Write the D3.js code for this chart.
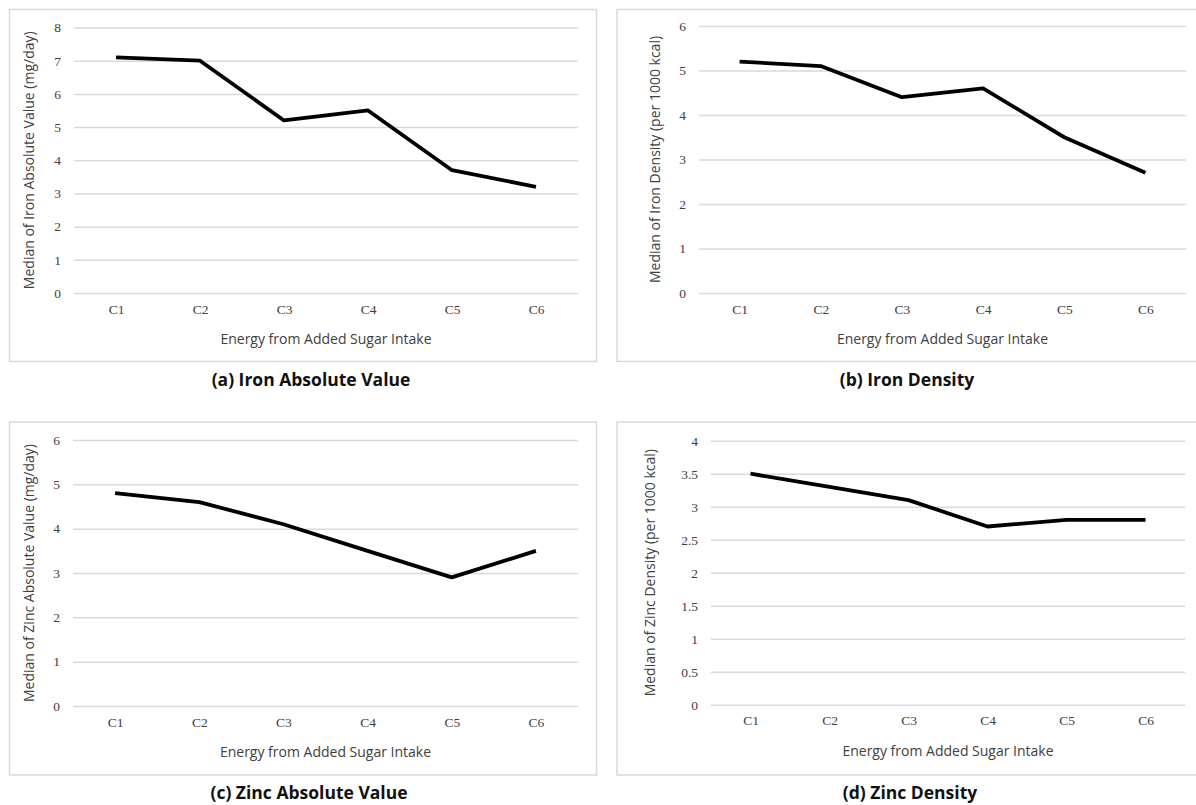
<!DOCTYPE html>
<html>
<head>
<meta charset="utf-8">
<script src="https://cdn.jsdelivr.net/npm/d3@7"></script>
<style>
  body { margin: 0; background: #fff; }
  svg { display: block; }
  .tick text { font-family: "Liberation Serif", "Times New Roman", serif; font-size: 13.5px; fill: #404040; }
  .axis-title { font-family: "Open Sans", sans-serif; font-size: 14px; fill: #404040; }
  .panel-title { font-family: "Open Sans", sans-serif; font-size: 17.5px; font-weight: bold; fill: #111; }
</style>
</head>
<body>
<svg id="chart" width="1196" height="805"></svg>
<script>
// categories shared by all four panels
const categories = ["C1", "C2", "C3", "C4", "C5", "C6"];

// series values
const ironAbsolute = [7.1, 7.0, 5.2, 5.5, 3.7, 3.2];
const ironDensity = [5.2, 5.1, 4.4, 4.6, 3.5, 2.7];
const zincAbsolute = [4.8, 4.6, 4.1, 3.5, 2.9, 3.5];
const zincDensity = [3.5, 3.3, 3.1, 2.7, 2.8, 2.8];

// y tick labels for each panel
const ironAbsTicks = [0, 1, 2, 3, 4, 5, 6, 7, 8];
const ironDenTicks = [0, 1, 2, 3, 4, 5, 6];
const zincAbsTicks = [0, 1, 2, 3, 4, 5, 6];
const zincDenTicks = [0, 0.5, 1, 1.5, 2, 2.5, 3, 3.5, 4];

const xTitle = "Energy from Added Sugar Intake";

// layout of each panel (frame box, plot box, title)
let panels = [
    { values: ironAbsolute, ticks: ironAbsTicks, yTitle: "Median of Iron Absolute Value (mg/day)",
      title: "(a) Iron Absolute Value",
      frame: { x: 9.5, y: 9.5, w: 587, h: 352 },
      plot: { x0: 74, x1: 578, y0: 27.5, y1: 293 },
      yTitleX: 34, titleX: 311, titleY: 386 },
    { values: ironDensity, ticks: ironDenTicks, yTitle: "Median of Iron Density (per 1000 kcal)",
      title: "(b) Iron Density",
      frame: { x: 617, y: 9.5, w: 600, h: 352 },
      plot: { x0: 699, x1: 1186, y0: 26, y1: 293 },
      yTitleX: 660, titleX: 907, titleY: 386 },
    { values: zincAbsolute, ticks: zincAbsTicks, yTitle: "Median of Zinc Absolute Value (mg/day)",
      title: "(c) Zinc Absolute Value",
      frame: { x: 9.5, y: 422, w: 587, h: 353 },
      plot: { x0: 73, x1: 578, y0: 440, y1: 706 },
      yTitleX: 34, titleX: 309, titleY: 799 },
    { values: zincDensity, ticks: zincDenTicks, yTitle: "Median of Zinc Density (per 1000 kcal)",
      title: "(d) Zinc Density",
      frame: { x: 617, y: 422, w: 600, h: 353 },
      plot: { x0: 711, x1: 1185, y0: 440.7, y1: 704.7 },
      yTitleX: 655, titleX: 910, titleY: 799 }
];

function drawPanel(p) {
    let svg = d3.select("#chart");
    let g = svg.append("g");

    // outer frame of the panel
    g.append("rect")
        .attr("x", p.frame.x).attr("y", p.frame.y)
        .attr("width", p.frame.w).attr("height", p.frame.h)
        .attr("fill", "none").attr("stroke", "#d9d9d9").attr("stroke-width", 1.5);

    let xScale = d3.scalePoint()
        .domain(categories)
        .range([p.plot.x0, p.plot.x1])
        .padding(0.5);

    let yScale = d3.scaleLinear()
        .domain([d3.min(p.ticks), d3.max(p.ticks)])
        .range([p.plot.y1, p.plot.y0]);

    // gridlines + y labels
    let axisY = d3.axisLeft(yScale)
        .tickValues(p.ticks)
        .tickSize(-(p.plot.x1 - p.plot.x0))
        .tickPadding(13)
        .tickFormat(d3.format(""));
    let gy = g.append("g")
        .attr("transform", "translate(" + p.plot.x0 + ",0)")
        .call(axisY);
    gy.select(".domain").remove();
    gy.selectAll(".tick line").attr("stroke", "#d9d9d9").attr("stroke-width", 1.5);

    // category labels
    let axisX = d3.axisBottom(xScale).tickSize(0).tickPadding(11);
    let gx = g.append("g")
        .attr("transform", "translate(0," + p.plot.y1 + ")")
        .call(axisX);
    gx.select(".domain").remove();

    // the line
    let line = d3.line()
        .x((d, i) => xScale(categories[i]))
        .y(d => yScale(d));
    g.append("path")
        .datum(p.values)
        .attr("d", line)
        .attr("fill", "none")
        .attr("stroke", "#000")
        .attr("stroke-width", 3.8)
        .attr("stroke-linejoin", "round");

    // axis titles
    g.append("text")
        .attr("class", "axis-title")
        .attr("x", (p.plot.x0 + p.plot.x1) / 2)
        .attr("y", p.plot.y1 + 51)
        .attr("text-anchor", "middle")
        .text(xTitle);

    g.append("text")
        .attr("class", "axis-title")
        .attr("transform", "translate(" + p.yTitleX + "," + ((p.plot.y0 + p.plot.y1) / 2) + ") rotate(-90)")
        .attr("text-anchor", "middle")
        .text(p.yTitle);

    // panel caption
    g.append("text")
        .attr("class", "panel-title")
        .attr("x", p.titleX)
        .attr("y", p.titleY)
        .attr("text-anchor", "middle")
        .text(p.title);
}

panels.forEach(drawPanel);
</script>
</body>
</html>
